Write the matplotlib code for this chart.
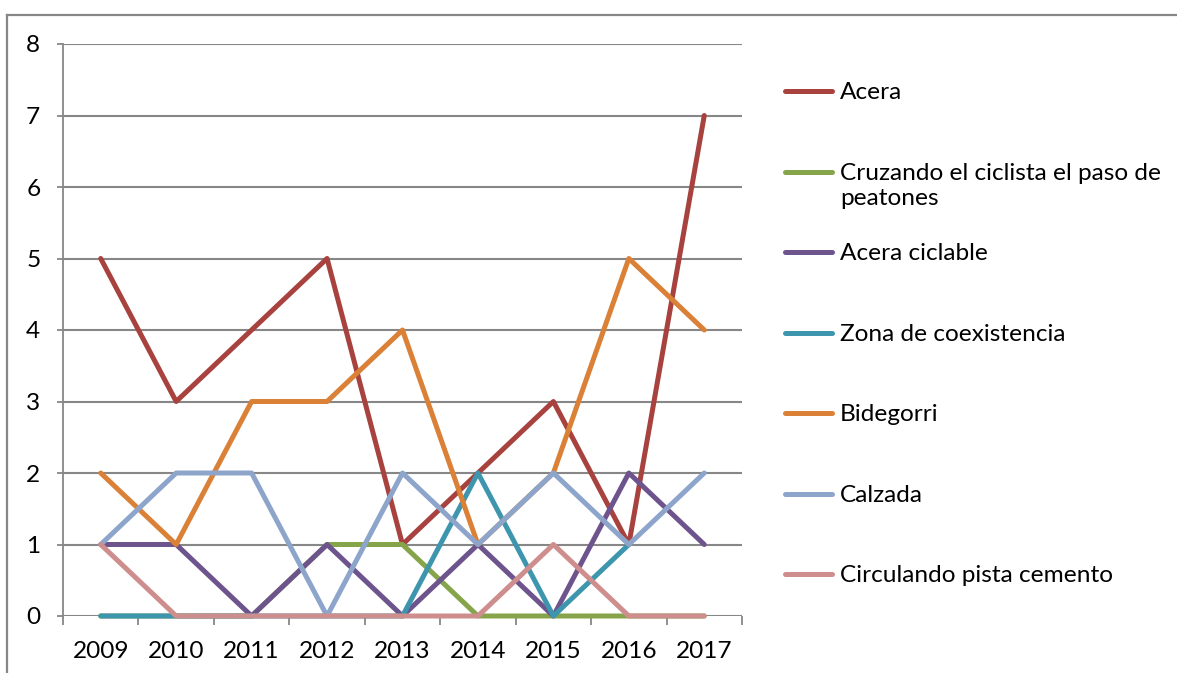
#!/usr/bin/env python3
"""Yearly counts by location type, Excel-style line chart with side legend."""

import matplotlib

matplotlib.use("Agg")

import matplotlib.pyplot as plt
from matplotlib.lines import Line2D
import numpy as np

years = ["2009", "2010", "2011", "2012", "2013", "2014", "2015", "2016", "2017"]

acera = [5, 3, 4, 5, 1, 2, 3, 1, 7]
cruzando = [0, 0, 0, 1, 1, 0, 0, 0, 0]
acera_ciclable = [1, 1, 0, 1, 0, 1, 0, 2, 1]
zona_coexistencia = [0, 0, 0, 0, 0, 2, 0, 1, None]
bidegorri = [2, 1, 3, 3, 4, 1, 2, 5, 4]
calzada = [1, 2, 2, 0, 2, 1, 2, 1, 2]
pista_cemento = [1, 0, 0, 0, 0, 0, 1, 0, 0]

series_labels = [
    "Acera",
    "Cruzando el ciclista el paso de\npeatones",
    "Acera ciclable",
    "Zona de coexistencia",
    "Bidegorri",
    "Calzada",
    "Circulando pista cemento",
]
series_values = [acera, cruzando, acera_ciclable, zona_coexistencia,
                 bidegorri, calzada, pista_cemento]
series_colors = ["#A8423F", "#86A44A", "#6E548D", "#3D96AE",
                 "#DA8137", "#8EA5CB", "#CE8E8D"]

W, H = 1177, 673
GRID = "#878787"
FONT = "Lato"
FS = 17.6
LW = 3.6

plt.rcParams["font.family"] = [FONT, "DejaVu Sans"]

fig = plt.figure(figsize=(W / 100, H / 100), dpi=100)
fig.patch.set_facecolor("white")

# outer chart border (only top and left edges are inside the picture)
fig.add_artist(Line2D([7 / W, 1.0], [1 - 15 / H, 1 - 15 / H],
                      transform=fig.transFigure, color=GRID, lw=1.6))
fig.add_artist(Line2D([7 / W, 7 / W], [0.0, 1 - 15 / H],
                      transform=fig.transFigure, color=GRID, lw=1.6))

ax = fig.add_axes([63 / W, 1 - 616 / H, (742 - 63) / W, (616 - 44) / H])
x = np.arange(len(years))

for values, color in zip(series_values, series_colors):
    y = np.array([np.nan if v is None else v for v in values], dtype=float)
    ax.plot(x, y, color=color, lw=LW, solid_capstyle="round",
            solid_joinstyle="round", zorder=3, clip_on=False)

ax.set_xlim(-0.5, len(years) - 0.5)
ax.set_ylim(0, 8)
ax.set_yticks(range(0, 9))
ax.yaxis.grid(True, color=GRID, lw=1.5, zorder=1)
ax.set_axisbelow(True)

for side in ("top", "right", "bottom"):
    ax.spines[side].set_visible(False)
ax.spines["left"].set_color(GRID)
ax.spines["left"].set_linewidth(1.3)

ax.set_xticks(x)
ax.set_xticklabels(years)
ax.set_xticks(np.arange(-0.5, len(years)), minor=True)
ax.tick_params(axis="x", which="major", length=0, pad=18, labelsize=FS)
ax.tick_params(axis="x", which="minor", length=6.5, width=1.3,
               color=GRID, direction="out")
ax.tick_params(axis="y", length=4.3, width=1.3, color=GRID, pad=12,
               labelsize=FS)

# legend drawn by hand so rows keep the fixed Excel spacing
row_y = np.linspace(91, 574, len(series_labels))
for label, color, yy in zip(series_labels, series_colors, row_y):
    yf = 1 - yy / H
    fig.add_artist(Line2D([785 / W, 832 / W], [yf, yf],
                          transform=fig.transFigure, color=color, lw=LW,
                          solid_capstyle="round"))
    fig.text(840 / W, yf + 9 / H, label, ha="left", va="top",
             fontsize=FS, linespacing=1.25)

fig.savefig("out.png", dpi=100, facecolor="white")
